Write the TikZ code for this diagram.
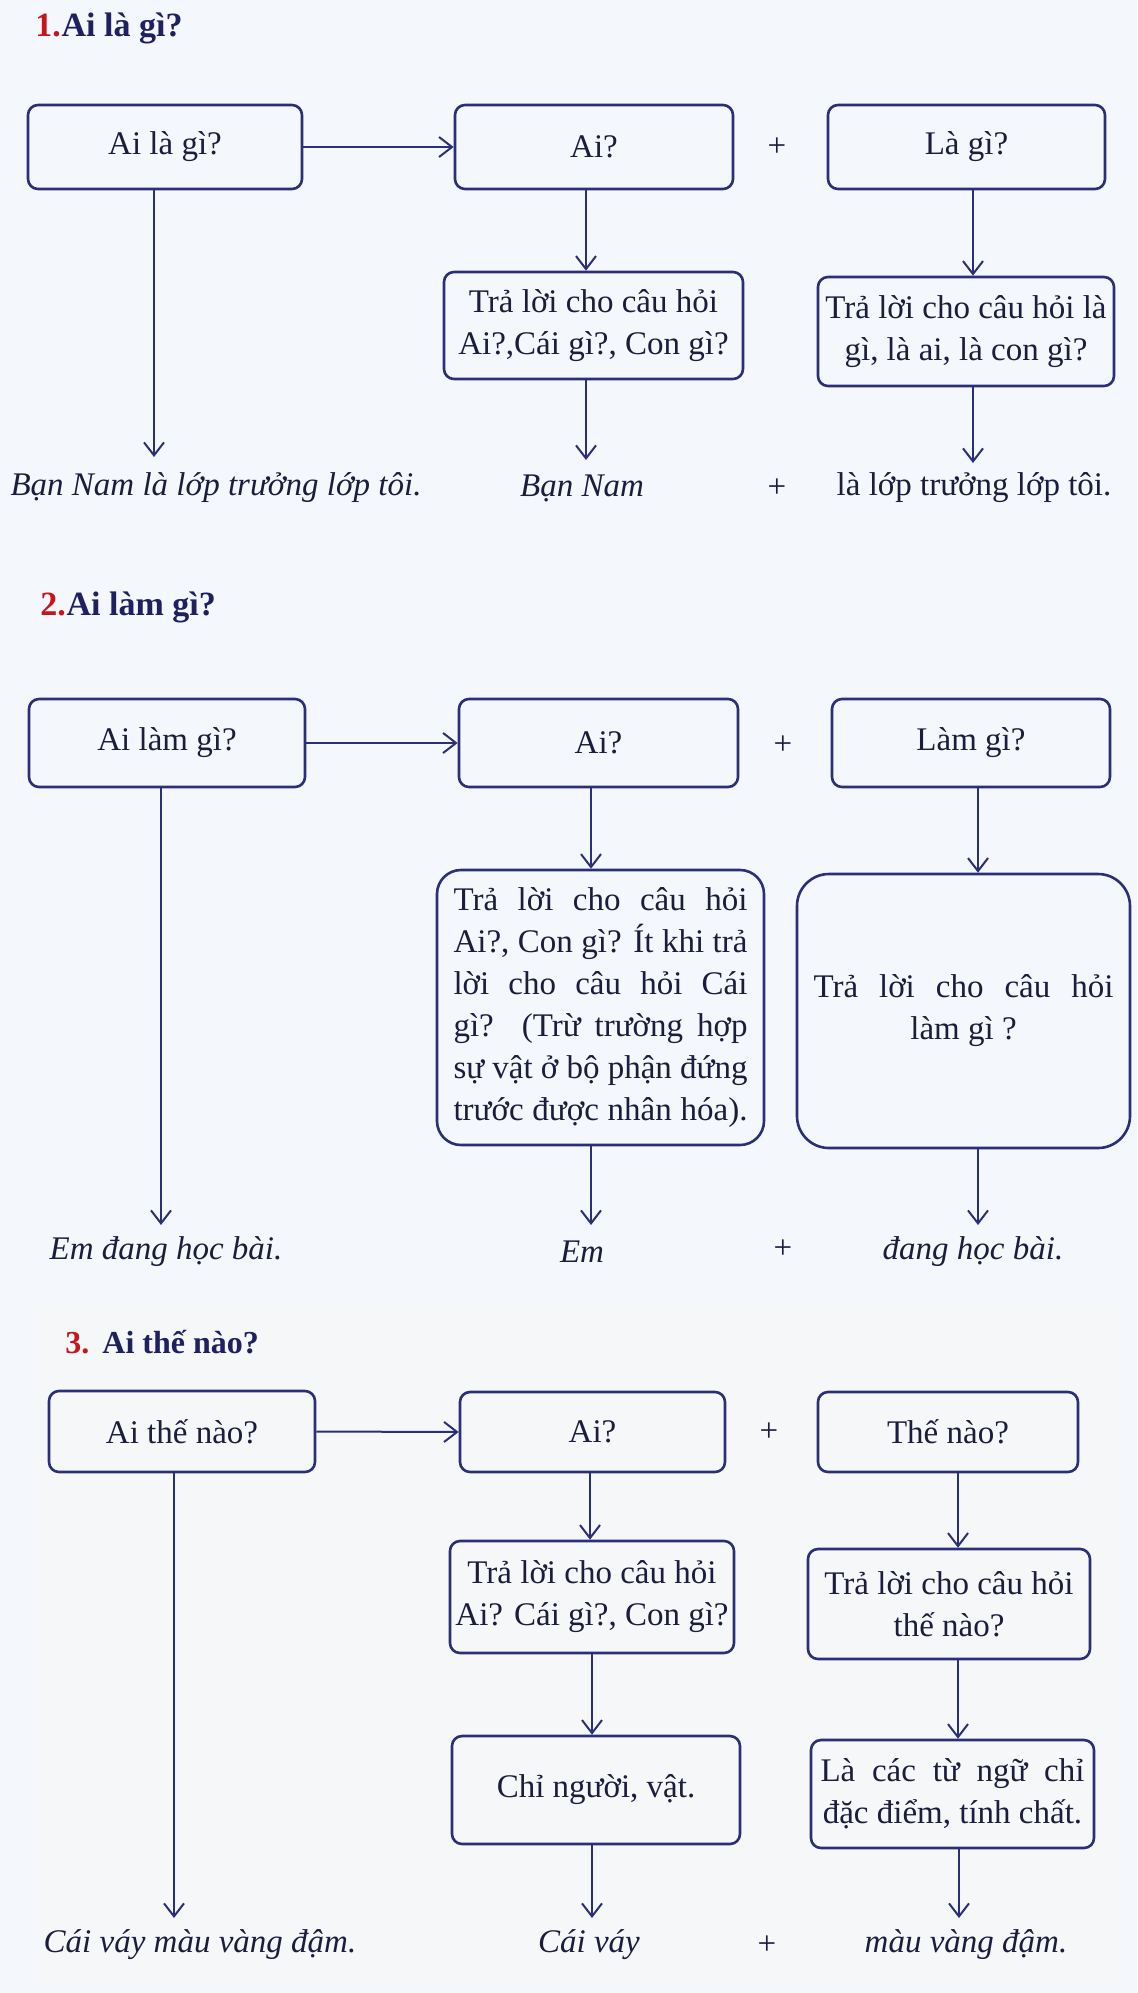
\documentclass[tikz,border=0pt]{standalone}
\usepackage{fontspec}
\setmainfont{Liberation Serif}
\usetikzlibrary{arrows.meta}
\definecolor{bgc}{HTML}{F4F7FB}
\definecolor{panel}{HTML}{F6F7F9}
\definecolor{linec}{HTML}{2B2F78}
\definecolor{txtc}{HTML}{1C1C3C}
\definecolor{numred}{HTML}{C4161C}
\definecolor{titc}{HTML}{1F2060}
\tikzset{
  box/.style={draw=linec, line width=1.3pt, rounded corners=5pt, text=txtc, align=center, inner sep=0pt},
  bigbox/.style={box, rounded corners=12pt},
  arr/.style={draw=linec, line width=1pt, -{Straight Barb[length=6.5pt,width=10pt,line width=1pt]}},
  lab/.style={text=txtc, inner sep=0pt},
  itl/.style={lab, font=\fontsize{16.5pt}{21pt}\selectfont\itshape},
  ttl/.style={inner sep=0pt, anchor=base west, font=\fontsize{17pt}{20pt}\selectfont\bfseries},
  ttlsm/.style={ttl, font=\fontsize{16pt}{19pt}\selectfont\bfseries}
}
\begin{document}
\begin{tikzpicture}[x=0.5pt,y=-0.5pt, font=\fontsize{16.5pt}{21pt}\selectfont]
\useasboundingbox (0,0) rectangle (1137,1993);
\fill[bgc] (0,0) rectangle (1137,1993);
\fill[panel] (36,1302) rectangle (1120,1986);

% ---------- Section 1 ----------
\node[ttl, text=numred] (t1n) at (35,36) {1.};
\node[ttl, text=titc, anchor=base west] (t1) at (t1n.base east) {Ai là gì?};

\node[box, minimum width=137pt, minimum height=42pt] (A1) at (165,147) {Ai là gì?};
\node[box, minimum width=139pt, minimum height=42pt] (B1) at (594,147) {Ai?};
\node[box, minimum width=138.5pt, minimum height=42pt] (C1) at (966.5,147) {Là gì?};
\node[lab] (p1a) at (777,147) {+};
\node[box, minimum width=149.5pt, minimum height=53.5pt] (B1b) at (593.5,325.5) {Trả lời cho câu hỏi\\Ai?,Cái gì?, Con gì?};
\node[box, minimum width=148pt, minimum height=54.5pt] (C1b) at (966,331.5) {Trả lời cho câu hỏi là\\gì, là ai, là con gì?};
\node[itl] (L1) at (216,488) {Bạn Nam là lớp trưởng lớp tôi.};
\node[itl] (M1) at (582,488) {Bạn Nam};
\node[lab] (p1b) at (777,488) {+};
\node[lab] (R1) at (974,488) {là lớp trưởng lớp tôi.};

\coordinate (a1t) at (154,457);
\coordinate (b1x) at (586,0);
\coordinate (c1x) at (973,0);
\coordinate (m1t) at (586,460);
\coordinate (r1t) at (973,463);
\draw[arr] (A1.east) -- (B1.west);
\draw[arr] (A1.south -| a1t) -- (a1t);
\draw[arr] (B1.south -| b1x) -- (B1b.north -| b1x);
\draw[arr] (C1.south -| c1x) -- (C1b.north -| c1x);
\draw[arr] (B1b.south -| m1t) -- (m1t);
\draw[arr] (C1b.south -| r1t) -- (r1t);

% ---------- Section 2 ----------
\node[ttl, text=numred] (t2n) at (40,615) {2.};
\node[ttl, text=titc, anchor=base west] (t2) at (t2n.base east) {Ai làm gì?};

\node[box, minimum width=138pt, minimum height=44pt] (A2) at (167,743) {Ai làm gì?};
\node[box, minimum width=139.5pt, minimum height=44pt] (B2) at (598.5,743) {Ai?};
\node[box, minimum width=139pt, minimum height=44pt] (C2) at (971,743) {Làm gì?};
\node[lab] (p2a) at (783,745) {+};
\node[bigbox, minimum width=163.5pt, minimum height=137.5pt] (B2b) at (600.5,1007.5) {%
\makebox[147pt][s]{Trả lời cho câu hỏi}\\
\makebox[147pt][s]{Ai?, Con gì? Ít khi trả}\\
\makebox[147pt][s]{lời cho câu hỏi Cái}\\
\makebox[147pt][s]{gì? (Trừ trường hợp}\\
\makebox[147pt][s]{sự vật ở bộ phận đứng}\\
\makebox[147pt][s]{trước được nhân hóa).}};
\node[bigbox, rounded corners=16pt, minimum width=166.5pt, minimum height=137pt] (C2b) at (963.5,1011) {%
\makebox[150pt][s]{Trả lời cho câu hỏi}\\làm gì ?};
\node[itl] (L2) at (166,1252) {Em đang học bài.};
\node[itl] (M2) at (582,1252) {Em};
\node[lab] (p2b) at (783,1249) {+};
\node[itl] (R2) at (973,1252) {đang học bài.};

\coordinate (a2t) at (161,1225);
\coordinate (b2x) at (591,0);
\coordinate (c2x) at (978,0);
\coordinate (m2t) at (591,1225);
\coordinate (r2t) at (978,1225);
\draw[arr] (A2.east) -- (B2.west);
\draw[arr] (A2.south -| a2t) -- (a2t);
\draw[arr] (B2.south -| b2x) -- (B2b.north -| b2x);
\draw[arr] (C2.south -| c2x) -- (C2b.north -| c2x);
\draw[arr] (B2b.south -| m2t) -- (m2t);
\draw[arr] (C2b.south -| r2t) -- (r2t);

% ---------- Section 3 ----------
\node[ttlsm, text=numred] (t3n) at (65,1353) {3.};
\node[ttlsm, text=titc, anchor=base west] (t3) at (102,1353) {Ai thế nào?};

\node[box, minimum width=133pt, minimum height=40.5pt] (A3) at (182,1431.5) {Ai thế nào?};
\node[box, minimum width=132.5pt, minimum height=40pt] (B3) at (592.5,1432) {Ai?};
\node[box, minimum width=130pt, minimum height=40pt] (C3) at (948,1432) {Thế nào?};
\node[lab] (p3a) at (769,1432) {+};
\node[box, minimum width=142pt, minimum height=56pt] (B3b) at (592,1597) {Trả lời cho câu hỏi\\Ai? Cái gì?, Con gì?};
\node[box, minimum width=141pt, minimum height=55pt] (C3b) at (949,1604) {Trả lời cho câu hỏi\\thế nào?};
\node[box, minimum width=144pt, minimum height=54pt] (B3c) at (596,1790) {Chỉ người, vật.};
\node[box, minimum width=141.5pt, minimum height=54pt] (C3c) at (952.5,1794) {%
\makebox[132pt][s]{Là các từ ngữ chỉ}\\đặc điểm, tính chất.};
\node[itl] (L3) at (200,1945) {Cái váy màu vàng đậm.};
\node[itl] (M3) at (589,1945) {Cái váy};
\node[lab] (p3b) at (767,1945) {+};
\node[itl] (R3) at (966,1945) {màu vàng đậm.};

\coordinate (a3t) at (174,1918);
\coordinate (b3x) at (590,0);
\coordinate (c3x) at (958,0);
\coordinate (b3y) at (592,0);
\coordinate (c3y) at (958,0);
\coordinate (m3t) at (592,1918);
\coordinate (r3t) at (959,1918);
\draw[arr] (A3.east) -- (B3.west);
\draw[arr] (A3.south -| a3t) -- (a3t);
\draw[arr] (B3.south -| b3x) -- (B3b.north -| b3x);
\draw[arr] (C3.south -| c3x) -- (C3b.north -| c3x);
\draw[arr] (B3b.south -| b3y) -- (B3c.north -| b3y);
\draw[arr] (C3b.south -| c3y) -- (C3c.north -| c3y);
\draw[arr] (B3c.south -| m3t) -- (m3t);
\draw[arr] (C3c.south -| r3t) -- (r3t);
\end{tikzpicture}
\end{document}
